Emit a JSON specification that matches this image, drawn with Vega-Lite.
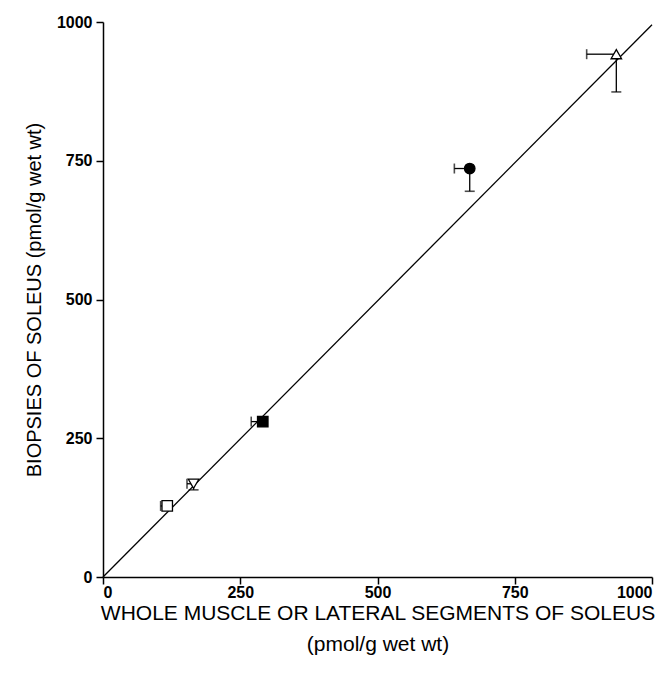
{
  "$schema": "https://vega.github.io/schema/vega-lite/v6.json",
  "autosize": "none",
  "width": 549,
  "height": 555,
  "padding": {"left": 103, "top": 22, "right": 19, "bottom": 100},
  "background": "white",
  "config": {
    "view": {"stroke": null},
    "axis": {
      "grid": false,
      "domainColor": "black",
      "domainWidth": 1.5,
      "tickColor": "black",
      "tickWidth": 1.5,
      "tickSize": 7,
      "labelFont": "Liberation Sans",
      "labelFontSize": 16,
      "labelFontWeight": "bold",
      "labelColor": "black",
      "titleFont": "Liberation Sans",
      "titleFontWeight": "normal",
      "titleColor": "black"
    }
  },
  "datasets": {
    "pts": [
      {"grp": "A", "x": 117, "y": 128, "xlo": 105, "ylo": 128},
      {"grp": "B", "x": 165, "y": 168, "xlo": 153, "ylo": 157},
      {"grp": "C", "x": 291, "y": 280, "xlo": 270, "ylo": 272},
      {"grp": "D", "x": 668, "y": 736, "xlo": 640, "ylo": 695},
      {"grp": "E", "x": 935, "y": 942, "xlo": 881, "ylo": 874}
    ],
    "ident": [
      {"x": 0, "y": 0},
      {"x": 1000, "y": 995}
    ]
  },
  "layer": [
    {
      "data": {"name": "ident"},
      "mark": {"type": "line", "color": "black", "strokeWidth": 1.3},
      "encoding": {
        "x": {
          "field": "x", "type": "quantitative",
          "scale": {"domain": [0, 1000], "nice": false, "zero": true},
          "axis": {
            "values": [0, 250, 500, 750, 1000],
            "format": "d",
            "labelPadding": 0,
            "titlePadding": 2,
            "titleFontSize": 21,
            "titleLineHeight": 31,
            "title": ["WHOLE MUSCLE OR LATERAL SEGMENTS OF SOLEUS", "(pmol/g wet wt)"]
          }
        },
        "y": {
          "field": "y", "type": "quantitative",
          "scale": {"domain": [0, 1000], "nice": false},
          "axis": {
            "values": [0, 250, 500, 750, 1000],
            "format": "d",
            "labelPadding": 4,
            "titlePadding": 12,
            "titleFontSize": 20,
            "title": "BIOPSIES OF SOLEUS (pmol/g wet wt)"
          }
        }
      }
    },
    {
      "data": {"name": "pts"},
      "mark": {"type": "rule", "color": "black", "strokeWidth": 1.3},
      "encoding": {
        "x": {"field": "xlo", "type": "quantitative"},
        "x2": {"field": "x"},
        "y": {"field": "y", "type": "quantitative"}
      }
    },
    {
      "data": {"name": "pts"},
      "mark": {"type": "rule", "color": "black", "strokeWidth": 1.3},
      "encoding": {
        "x": {"field": "x", "type": "quantitative"},
        "y": {"field": "ylo", "type": "quantitative"},
        "y2": {"field": "y"}
      }
    },
    {
      "data": {"name": "pts"},
      "mark": {"type": "tick", "color": "black", "orient": "vertical", "size": 10, "thickness": 1.6},
      "encoding": {
        "x": {"field": "xlo", "type": "quantitative"},
        "y": {"field": "y", "type": "quantitative"}
      }
    },
    {
      "data": {"name": "pts"},
      "mark": {"type": "tick", "color": "black", "orient": "horizontal", "size": 10, "thickness": 1.6},
      "encoding": {
        "x": {"field": "x", "type": "quantitative"},
        "y": {"field": "ylo", "type": "quantitative"}
      }
    },
    {
      "data": {"name": "pts"},
      "mark": {"type": "point", "stroke": "black", "strokeWidth": 1.3, "opacity": 1, "filled": false, "size": 110},
      "encoding": {
        "x": {"field": "x", "type": "quantitative"},
        "y": {"field": "y", "type": "quantitative"},
        "shape": {
          "field": "grp", "type": "nominal", "legend": null,
          "scale": {"domain": ["A", "B", "C", "D", "E"], "range": ["square", "triangle-down", "square", "circle", "triangle-up"]}
        },
        "fill": {
          "field": "grp", "type": "nominal", "legend": null,
          "scale": {"domain": ["A", "B", "C", "D", "E"], "range": ["white", "white", "black", "black", "white"]}
        }
      }
    }
  ]
}
